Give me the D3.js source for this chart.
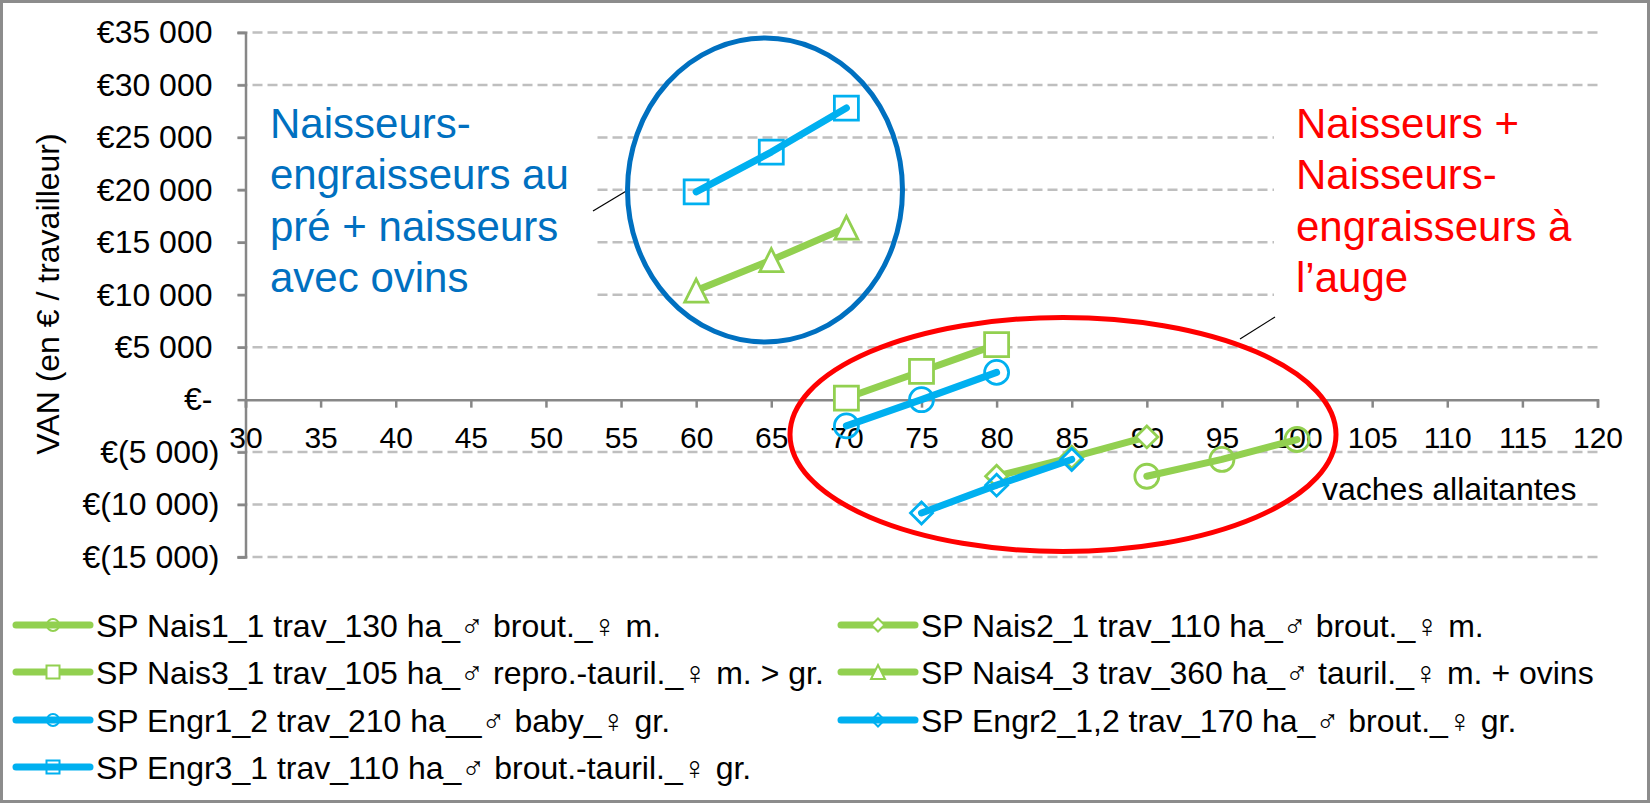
<!DOCTYPE html>
<html><head><meta charset="utf-8">
<script src="https://cdn.jsdelivr.net/npm/d3@7"></script>
<style>
html,body{margin:0;padding:0;background:#fff;}
svg{display:block;font-family:"Liberation Sans",Arial,sans-serif;}
</style></head>
<body>
<svg id="chart" width="1650" height="803"></svg>
<script>
// ---- data ----
const xTicks = [30,35,40,45,50,55,60,65,70,75,80,85,90,95,100,105,110,115,120];
const yTicks = [-15000,-10000,-5000,0,5000,10000,15000,20000,25000,30000,35000];
const seriesNames = [
  "SP Nais1_1 trav_130 ha_\u2642 brout._\u2640 m.",
  "SP Nais2_1 trav_110 ha_\u2642 brout._\u2640 m.",
  "SP Nais3_1 trav_105 ha_\u2642 repro.-tauril._\u2640 m. > gr.",
  "SP Nais4_3 trav_360 ha_\u2642 tauril._\u2640 m. + ovins",
  "SP Engr1_2 trav_210 ha__\u2642 baby_\u2640 gr.",
  "SP Engr2_1,2 trav_170 ha_\u2642 brout._\u2640 gr.",
  "SP Engr3_1 trav_110 ha_\u2642 brout.-tauril._\u2640 gr."
];
const xNais1 = [90, 95, 100];  const yNais1 = [-7300, -5700, -3800];
const xNais2 = [80, 85, 90];   const yNais2 = [-7300, -5500, -3550];
const xNais3 = [70, 75, 80];   const yNais3 = [150, 2700, 5250];
const xNais4 = [60, 65, 70];   const yNais4 = [10400, 13300, 16400];
const xEngr1 = [70, 75, 80];   const yEngr1 = [-2500, 0, 2600];
const xEngr2 = [75, 80, 85];   const yEngr2 = [-10800, -8150, -5700];
const xEngr3 = [60, 65, 70];   const yEngr3 = [19800, 23600, 27800];
const xTitle = "vaches allaitantes";
const yTitle = "VAN (en \u20ac / travailleur)";
const noteBlue = ["Naisseurs-", "engraisseurs au", "pr\u00e9 + naisseurs", "avec ovins"];
const noteRed = ["Naisseurs +", "Naisseurs-", "engraisseurs \u00e0", "l\u2019auge"];

// ---- styles ----
const GREEN = "#92D050", BLUE = "#00B0F0";
const seriesXs = [xNais1,xNais2,xNais3,xNais4,xEngr1,xEngr2,xEngr3];
const seriesYs = [yNais1,yNais2,yNais3,yNais4,yEngr1,yEngr2,yEngr3];
const styles = [
  {color:GREEN, marker:"circle",   fill:"none"},
  {color:GREEN, marker:"diamond",  fill:"#fff"},
  {color:GREEN, marker:"square",   fill:"#fff"},
  {color:GREEN, marker:"triangle", fill:"#fff"},
  {color:BLUE,  marker:"circle",   fill:"none"},
  {color:BLUE,  marker:"diamond",  fill:"none"},
  {color:BLUE,  marker:"square",   fill:"none"}
];
const series = seriesNames.map((n,i)=>({
  name:n, style:styles[i],
  pts: seriesXs[i].map((xv,j)=>({x:xv, y:seriesYs[i][j]}))
}));

const svg = d3.select("#chart");
const x = d3.scaleLinear().domain([30,120]).range([245.5,1597.5]);
const y = d3.scaleLinear().domain([-15000,35000]).range([557,32.5]);
const AXC = "#878787", GRIDC = "#BFBFBF";

// frame
svg.append("rect").attr("x",1.5).attr("y",1.5).attr("width",1647).attr("height",800)
  .attr("fill","#fff").attr("stroke","#8c8c8c").attr("stroke-width",3);

// gridlines
svg.append("g").selectAll("line").data(yTicks.filter(d=>d!==0)).join("line")
  .attr("x1",237.5).attr("x2",x(120)).attr("y1",d=>y(d)).attr("y2",d=>y(d))
  .attr("stroke",GRIDC).attr("stroke-width",2.5).attr("stroke-dasharray","10,5");

// white boxes behind annotations
svg.append("rect").attr("x",246.5).attr("y",100).attr("width",594-246.5).attr("height",210).attr("fill","#fff");
svg.append("rect").attr("x",1274).attr("y",100).attr("width",x(120)-1274+2).attr("height",210).attr("fill","#fff");

// y axis
const fmt = v => v === 0 ? "\u20ac-" : (v < 0 ? "\u20ac(" + d3.format(",")(-v).replace(/,/g," ") + ")" : "\u20ac" + d3.format(",")(v).replace(/,/g," "));
const gy = svg.append("g").attr("transform",`translate(${x(30)},0)`)
  .call(d3.axisLeft(y).tickValues(yTicks).tickSize(8).tickPadding(25).tickFormat(fmt));
gy.select(".domain").attr("stroke",AXC).attr("stroke-width",2.5);
gy.selectAll(".tick line").attr("stroke",AXC).attr("stroke-width",2.5);
gy.selectAll(".tick text").attr("font-size",32).attr("fill","#000")
  .attr("font-family","'Liberation Sans',Arial,sans-serif")
  .attr("x",d=> d<0 ? -26 : -33);

// x axis
const gx = svg.append("g").attr("transform",`translate(0,${y(0)})`)
  .call(d3.axisBottom(x).tickValues(xTicks).tickSize(8).tickFormat(d=>d));
gx.select(".domain").attr("stroke",AXC).attr("stroke-width",2.5);
gx.selectAll(".tick line").attr("stroke",AXC).attr("stroke-width",2.5);
gx.selectAll(".tick text").attr("font-size",30).attr("fill","#000")
  .attr("font-family","'Liberation Sans',Arial,sans-serif")
  .attr("y",48).attr("dy",0);

// axis titles
svg.append("text").attr("transform","translate(59,294) rotate(-90)")
  .attr("text-anchor","middle").attr("font-size",32).attr("fill","#000").text(yTitle);
svg.append("text").attr("x",1322).attr("y",500).attr("font-size",32).attr("fill","#000").text(xTitle);

// markers
function markerPath(type, s){
  if(type==="square") return `M${-s},${-s}h${2*s}v${2*s}h${-2*s}Z`;
  if(type==="diamond") return `M0,${-s}L${s},0L0,${s}L${-s},0Z`;
  if(type==="triangle") return `M0,${-s}L${s},${s}L${-s},${s}Z`;
  return d3.arc()({innerRadius:0,outerRadius:s,startAngle:0,endAngle:2*Math.PI});
}
const chartSize = {circle:12, square:12, diamond:11, triangle:11.5};

const line = d3.line().x(d=>x(d.x)).y(d=>y(d.y));
series.forEach(s=>{
  const g = svg.append("g");
  g.append("path").attr("d",line(s.pts)).attr("fill","none")
    .attr("stroke",s.style.color).attr("stroke-width",7)
    .attr("stroke-linecap","round").attr("stroke-linejoin","round");
  g.selectAll("path.m").data(s.pts).join("path").attr("class","m")
    .attr("transform",d=>`translate(${x(d.x)},${y(d.y)})`)
    .attr("d",markerPath(s.style.marker, chartSize[s.style.marker]))
    .attr("fill",s.style.fill).attr("stroke",s.style.color).attr("stroke-width",2.8);
});

// annotation texts
const blueT = svg.append("text").attr("font-size",42).attr("fill","#0070C0");
noteBlue.forEach((t,i)=>blueT.append("tspan").attr("x",270).attr("y",138+i*51.3).text(t));
const redT = svg.append("text").attr("font-size",42).attr("fill","#FF0000");
noteRed.forEach((t,i)=>redT.append("tspan").attr("x",1296).attr("y",138+i*51.3).text(t));

// connectors
svg.append("line").attr("x1",593).attr("y1",211).attr("x2",628).attr("y2",190).attr("stroke","#000").attr("stroke-width",1.2);
svg.append("line").attr("x1",1240).attr("y1",339).attr("x2",1275).attr("y2",317).attr("stroke","#000").attr("stroke-width",1.2);

// ellipses
svg.append("ellipse").attr("cx",765).attr("cy",190).attr("rx",137.5).attr("ry",152)
  .attr("fill","none").attr("stroke","#0070C0").attr("stroke-width",5);
svg.append("ellipse").attr("cx",1063).attr("cy",434.5).attr("rx",273).attr("ry",117)
  .attr("fill","none").attr("stroke","#FF0000").attr("stroke-width",5);

// legend
const legendSize = {circle:6, square:6.5, diamond:6.5, triangle:7};
const legPos = [
  {lx:16, ty:625},{lx:841, ty:625},
  {lx:16, ty:672},{lx:841, ty:672},
  {lx:16, ty:720},{lx:841, ty:720},
  {lx:16, ty:767}
];
series.forEach((s,i)=>{
  const p = legPos[i];
  const g = svg.append("g").attr("transform",`translate(${p.lx},${p.ty})`);
  g.append("line").attr("x1",0).attr("x2",74).attr("y1",0).attr("y2",0)
    .attr("stroke",s.style.color).attr("stroke-width",7).attr("stroke-linecap","round");
  g.append("path").attr("transform","translate(37,0)")
    .attr("d",markerPath(s.style.marker, legendSize[s.style.marker]))
    .attr("fill",s.style.fill).attr("stroke",s.style.color).attr("stroke-width",2);
  g.append("text").attr("x",80).attr("y",0).attr("dy","0.36em")
    .attr("font-size",32).attr("fill","#000").text(s.name);
});
</script>
</body></html>
